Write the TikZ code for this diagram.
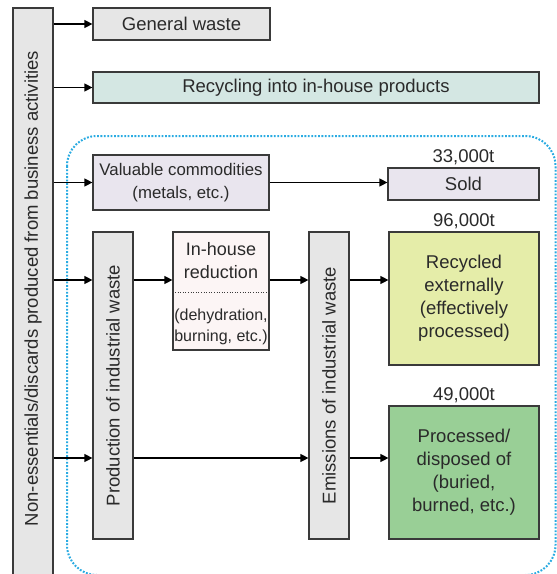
\documentclass[tikz,border=0pt]{standalone}
\usepackage{fontspec}
\setmainfont{Liberation Sans}
\usetikzlibrary{arrows.meta}
\definecolor{txt}{HTML}{2A2A2A}
\definecolor{boxline}{HTML}{3A3A3A}
\definecolor{graybox}{HTML}{E6E6E6}
\definecolor{recfill}{HTML}{D4E7E3}
\definecolor{valfill}{HTML}{E9E5EE}
\definecolor{inhfill}{HTML}{FCF5F5}
\definecolor{recxfill}{HTML}{E5EDA9}
\definecolor{procfill}{HTML}{99CF96}
\definecolor{dotcol}{HTML}{29ABE2}
\tikzset{
  box/.style={draw=boxline, line width=1.2pt, inner sep=0pt, align=center},
  flow/.style={draw=black, line width=1.2pt, -{Triangle[length=8pt,width=8pt]}},
  vtext/.style={rotate=90, inner sep=0pt},
  amount/.style={anchor=base, inner sep=0pt},
  region/.style={draw=dotcol, line width=2pt, dash pattern=on 1.8pt off 1.6pt, rounded corners=30pt}
}
\begin{document}
\begin{tikzpicture}[x=1pt, y=-1pt, font=\fontsize{18.5}{23}\selectfont, text=txt]
\useasboundingbox (0,0) rectangle (557,574);
\fill[white] (0,0) rectangle (557,574);

% dotted region
\draw[region] (67,136) rectangle (555.5,575);

% row coordinates
\coordinate (r1) at (0,280);
\coordinate (r2) at (0,458);
\coordinate (sep) at (0,292);

% source
\node[box, fill=graybox, minimum width=40pt, minimum height=572pt] (src) at (33,294) {};
\node[vtext] (srct) at (33,288.5) {Non-essentials/discards produced from business activities};

% top boxes
\node[box, fill=graybox, minimum width=177pt, minimum height=32pt] (gen) at (181.5,24) {General waste};
\node[box, fill=recfill, minimum width=446pt, minimum height=31pt] (rec) at (316,87.5) {Recycling into in-house products};

% valuable / sold
\node[box, fill=valfill, minimum width=176pt, minimum height=55pt, font=\fontsize{16.8}{23}\selectfont] (val) at (181,182.5) {Valuable commodities\\(metals, etc.)};
\node[box, fill=valfill, minimum width=151pt, minimum height=32pt] (sold) at (463.5,184) {Sold};
\node[amount] (a1) at ([yshift=5pt]sold.north) {33,000t};

% production / emissions
\node[box, fill=graybox, minimum width=40pt, minimum height=307pt] (prod) at (113,385.5) {};
\node[vtext] (prodt) at (113,385.5) {Production of industrial waste};
\node[box, fill=graybox, minimum width=40pt, minimum height=307pt] (emi) at (329,385.5) {};
\node[vtext] (emit) at (329,385.5) {Emissions of industrial waste};

% in-house reduction
\node[box, fill=inhfill, minimum width=96pt, minimum height=118pt] (inh) at (221,291) {};
\node[align=center, inner sep=0pt, font=\fontsize{18}{23}\selectfont] (inh1) at (221,260.5) {In-house\\reduction};
\node[align=center, inner sep=0pt, font=\fontsize{16}{21}\selectfont] (inh2) at (221,326.5) {(dehydration,\\burning, etc.)};
\draw[boxline, line width=1pt, dash pattern=on 1pt off 1.6pt] (inh.west |- sep) -- (inh.east |- sep);

% outcomes
\node[box, fill=recxfill, minimum width=150pt, minimum height=133pt] (recx) at (464,298.5) {Recycled\\externally\\(effectively\\processed)};
\node[amount] (a2) at ([yshift=5pt]recx.north) {96,000t};
\node[box, fill=procfill, minimum width=150pt, minimum height=133pt] (proc) at (464,472.5) {Processed/\\disposed of\\(buried,\\burned, etc.)};
\node[amount] (a3) at ([yshift=5pt]proc.north) {49,000t};

% arrows
\draw[flow] (src.east |- gen.west) -- (gen.west);
\draw[flow] (src.east |- rec.west) -- (rec.west);
\draw[flow] (src.east |- val.west) -- (val.west);
\draw[flow] (val.east) -- (val.east -| sold.west);
\draw[flow] (src.east |- r1) -- (prod.west |- r1);
\draw[flow] (src.east |- r2) -- (prod.west |- r2);
\draw[flow] (prod.east |- r1) -- (inh.west |- r1);
\draw[flow] (inh.east |- r1) -- (emi.west |- r1);
\draw[flow] (emi.east |- r1) -- (recx.west |- r1);
\draw[flow] (prod.east |- r2) -- (emi.west |- r2);
\draw[flow] (emi.east |- r2) -- (proc.west |- r2);
\end{tikzpicture}
\end{document}
